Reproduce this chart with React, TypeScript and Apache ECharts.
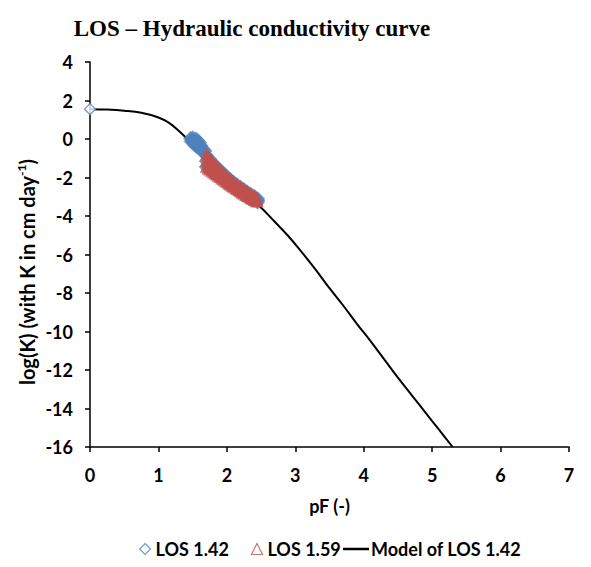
import React, { useEffect, useRef } from "react";
import * as echarts from "echarts";

const xTicks = [0, 1, 2, 3, 4, 5, 6, 7];
const yTicks = [-16, -14, -12, -10, -8, -6, -4, -2, 0, 2, 4];

// Model of LOS 1.42 (pF, log K)
const modelCurve: [number, number][] = [
  [0, 1.55], [0.25, 1.53], [0.5, 1.47], [0.75, 1.36], [1.0, 1.12], [1.15, 0.85],
  [1.3, 0.42], [1.45, -0.1], [1.6, -0.7], [1.8, -1.45], [2.0, -2.15], [2.2, -2.75],
  [2.45, -3.4], [2.7, -4.3], [2.9, -5.05], [3.1, -5.9], [3.3, -6.8], [3.5, -7.75],
  [3.7, -8.65], [3.9, -9.6], [4.1, -10.5], [4.3, -11.45], [4.5, -12.4], [4.7, -13.3],
  [4.9, -14.2], [5.1, -15.1], [5.3, -16.0],
];

// LOS 1.42 measurements
const los142Single: [number, number] = [0, 1.55];
const los142: [number, number][] = [
  [1.47, 0.02], [1.48, -0.12], [1.5, 0.06], [1.5, -0.2], [1.52, -0.05], [1.53, -0.3],
  [1.55, 0.0], [1.55, -0.18], [1.56, -0.4], [1.58, -0.1], [1.58, -0.3], [1.6, -0.45],
  [1.6, -0.2], [1.62, -0.55], [1.62, -0.35], [1.64, -0.65], [1.65, -0.5], [1.67, -0.75],
  [1.68, -0.62],
  [1.7, -0.85], [1.7, -1.15], [1.7, -1.45],
  [1.75, -1.05], [1.75, -1.32], [1.75, -1.6],
  [1.8, -1.25], [1.8, -1.5], [1.8, -1.75],
  [1.85, -1.45], [1.85, -1.65], [1.85, -1.85],
  [1.9, -1.6], [1.9, -1.8], [1.9, -1.98],
  [1.95, -1.78], [1.95, -1.95], [1.95, -2.1],
  [2.0, -1.95], [2.0, -2.1], [2.0, -2.25],
  [2.05, -2.1], [2.05, -2.25], [2.05, -2.38],
  [2.1, -2.25], [2.1, -2.38], [2.1, -2.5],
  [2.15, -2.38], [2.15, -2.5], [2.15, -2.62],
  [2.2, -2.5], [2.2, -2.62], [2.2, -2.75],
  [2.25, -2.62], [2.25, -2.75], [2.25, -2.87],
  [2.3, -2.75], [2.3, -2.86], [2.3, -2.98],
  [2.35, -2.87], [2.35, -2.97], [2.35, -3.08],
  [2.4, -2.98], [2.4, -3.08], [2.4, -3.18],
  [2.45, -3.1], [2.45, -3.2], [2.45, -3.28],
];

// LOS 1.59 measurements
const los159: [number, number][] = [
  [1.7, -0.78], [1.7, -1.1], [1.7, -1.42],
  [1.725, -0.88], [1.725, -1.18], [1.725, -1.5],
  [1.75, -1.0], [1.75, -1.28], [1.75, -1.56],
  [1.775, -1.1], [1.775, -1.36], [1.775, -1.62],
  [1.8, -1.22], [1.8, -1.46], [1.8, -1.7],
  [1.825, -1.32], [1.825, -1.54], [1.825, -1.76],
  [1.85, -1.42], [1.85, -1.62], [1.85, -1.82],
  [1.875, -1.52], [1.875, -1.7], [1.875, -1.88],
  [1.9, -1.6], [1.9, -1.78], [1.9, -1.95],
  [1.925, -1.69], [1.925, -1.86], [1.925, -2.02],
  [1.95, -1.78], [1.95, -1.93], [1.95, -2.08],
  [1.975, -1.86], [1.975, -2.0], [1.975, -2.14],
  [2.0, -1.95], [2.0, -2.08], [2.0, -2.21],
  [2.025, -2.03], [2.025, -2.15], [2.025, -2.28],
  [2.05, -2.1], [2.05, -2.22], [2.05, -2.34],
  [2.075, -2.17], [2.075, -2.29], [2.075, -2.4],
  [2.1, -2.24], [2.1, -2.35], [2.1, -2.46],
  [2.125, -2.31], [2.125, -2.42], [2.125, -2.52],
  [2.15, -2.38], [2.15, -2.48], [2.15, -2.58],
  [2.175, -2.44], [2.175, -2.54], [2.175, -2.64],
  [2.2, -2.5], [2.2, -2.6], [2.2, -2.7],
  [2.225, -2.56], [2.225, -2.66], [2.225, -2.76],
  [2.25, -2.62], [2.25, -2.72], [2.25, -2.82],
  [2.275, -2.68], [2.275, -2.78], [2.275, -2.88],
  [2.3, -2.74], [2.3, -2.84], [2.3, -2.93],
  [2.325, -2.8], [2.325, -2.89], [2.325, -2.98],
  [2.35, -2.86], [2.35, -2.95], [2.35, -3.04],
  [2.375, -2.92], [2.375, -3.0], [2.375, -3.09],
  [2.4, -2.98], [2.4, -3.06], [2.4, -3.14],
  [2.425, -3.04], [2.425, -3.11], [2.425, -3.18],
  [2.44, -3.08], [2.44, -3.15], [2.44, -3.22],
];

const BLUE = "#4F81BD";
const RED = "#C0504D";
const FONT = "Lato";

export default function App() {
  const ref = useRef<HTMLDivElement>(null);
  useEffect(() => {
    if (!ref.current) return;
    const chart = echarts.init(ref.current, null, { renderer: "svg" });
    const labelStyle = { color: "#000", fontFamily: FONT, fontWeight: "bold", fontSize: 18 };
    const axisCommon = {
      axisLine: { onZero: false, lineStyle: { color: "#000", width: 1.5 } },
      axisTick: { show: true, inside: false, length: 5, lineStyle: { color: "#000", width: 1.5 } },
      splitLine: { show: false },
    };
    chart.setOption({
      animation: false,
      backgroundColor: "#fff",
      grid: { left: 90, right: 22, top: 62, bottom: 120, containLabel: false },
      xAxis: {
        type: "value",
        min: xTicks[0],
        max: xTicks[xTicks.length - 1],
        interval: 1,
        ...axisCommon,
        axisLabel: { ...labelStyle, margin: 19 },
        name: "pF (-)",
        nameLocation: "middle",
        nameGap: 50,
        nameTextStyle: { ...labelStyle },
      },
      yAxis: {
        type: "value",
        min: yTicks[0],
        max: yTicks[yTicks.length - 1],
        interval: 2,
        ...axisCommon,
        axisLabel: { ...labelStyle, margin: 17 },
      },
      legend: [
        {
          left: 134,
          top: 535,
          itemWidth: 11,
          itemHeight: 11,
          itemGap: 22,
          textStyle: { ...labelStyle },
          data: [
            { name: "LOS 1.42", icon: "diamond", itemStyle: { color: "#fff", borderColor: BLUE, borderWidth: 1.2 } },
            { name: "LOS 1.59", icon: "triangle", itemStyle: { color: "#fff", borderColor: RED, borderWidth: 1.2 } },
          ],
        },
        {
          left: 338,
          top: 535,
          itemWidth: 26,
          itemHeight: 2.5,
          textStyle: { ...labelStyle, padding: [0, 0, 0, -3] },
          data: [{ name: "Model of LOS 1.42", icon: "rect", itemStyle: { color: "#000" } }],
        },
      ],
      graphic: [
        {
          type: "text",
          x: 252,
          y: 28,
          style: {
            text: "LOS – Hydraulic conductivity curve",
            fontFamily: "Liberation Serif",
            fontWeight: "bold",
            fontSize: 23,
            fill: "#000",
            align: "center",
            verticalAlign: "middle",
          },
        },
        {
          type: "text",
          x: 27,
          y: 272,
          rotation: Math.PI / 2,
          style: {
            text: "{b|log(K) (with K in cm day}{s|-1}{b|)}",
            align: "center",
            verticalAlign: "middle",
            rich: {
              b: { fontFamily: FONT, fontWeight: "bold", fontSize: 20, fill: "#000", lineHeight: 24 },
              s: { fontFamily: FONT, fontWeight: "bold", fontSize: 12, fill: "#000", verticalAlign: "top", lineHeight: 16 },
            },
          },
        },
      ],
      series: [
        {
          name: "Model of LOS 1.42",
          type: "line",
          z: 1,
          data: modelCurve,
          smooth: 0.4,
          symbol: "none",
          lineStyle: { color: "#000", width: 2 },
          itemStyle: { color: "#000" },
        },
        {
          name: "LOS 1.42",
          type: "scatter",
          z: 3,
          symbol: "diamond",
          symbolSize: 15,
          itemStyle: { color: BLUE },
          data: [
            { value: los142Single, symbolSize: 11, itemStyle: { color: "#fff", borderColor: BLUE, borderWidth: 1.3 } },
            ...los142,
          ],
        },
        {
          name: "LOS 1.59",
          type: "scatter",
          z: 4,
          symbol: "triangle",
          symbolSize: 13,
          itemStyle: { color: RED },
          data: los159,
        },
      ],
    });
    return () => chart.dispose();
  }, []);
  return <div ref={ref} style={{ width: 591, height: 567, position: "absolute", left: 0, top: 0 }} />;
}
